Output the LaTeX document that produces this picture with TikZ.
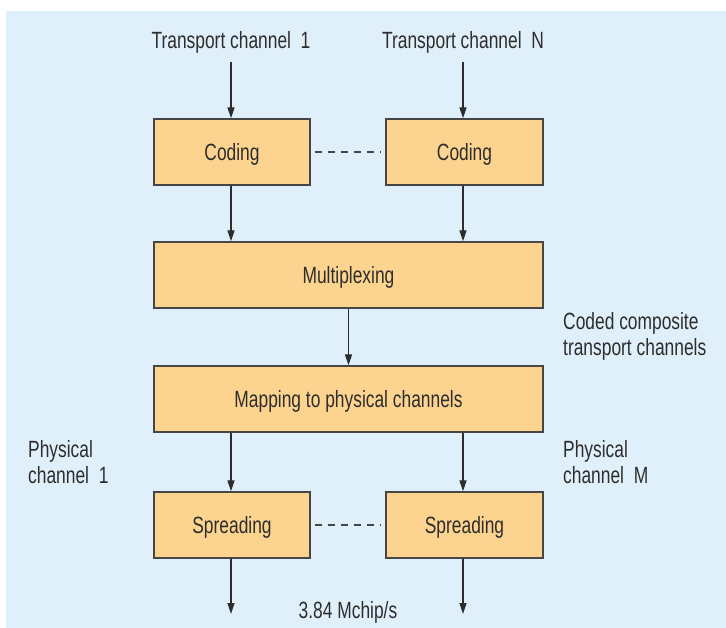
\documentclass[tikz,border=0pt]{standalone}
\usepackage{fontspec}
\setmainfont{Liberation Sans}[FakeStretch=0.74]
\usetikzlibrary{arrows.meta}
\definecolor{bgblue}{RGB}{223,240,251}
\definecolor{boxfill}{RGB}{253,212,143}
\definecolor{ink}{RGB}{45,45,45}
\definecolor{edge}{RGB}{70,70,70}
\tikzset{
  blk/.style={draw=edge, line width=1.4pt, fill=boxfill, rectangle, minimum height=66pt, inner sep=0pt, text height=17pt, text depth=0pt, text=ink, font=\fontsize{23.5}{26}\selectfont},
  lbl/.style={text=ink, inner sep=0pt, font=\fontsize{23.5}{26}\selectfont, align=left},
  arr/.style={draw=ink, line width=1.2pt, -{Triangle[length=11pt,width=7pt]}},
  dsh/.style={draw=edge, line width=1.4pt, dash pattern=on 7pt off 6pt}
}
\begin{document}
\begin{tikzpicture}[x=1pt,y=-1pt]
\useasboundingbox (0,0) rectangle (726,628);
\fill[bgblue] (6,11) rectangle (726,628);
% top labels
\node[lbl, anchor=base] (t1) at (231,49) {Transport channel\ \ 1};
\node[lbl, anchor=base] (tN) at (463,49) {Transport channel\ \ N};
% boxes
\node[blk, minimum width=156pt] (c1) at (232,152) {Coding};
\node[blk, minimum width=157pt] (cN) at (464.5,152) {Coding};
\node[blk, minimum width=389pt] (mux) at (348.5,275) {Multiplexing};
\node[blk, minimum width=389pt] (map) at (348.5,399) {Mapping to physical channels};
\node[blk, minimum width=156pt] (s1) at (232,525) {Spreading};
\node[blk, minimum width=157pt] (sM) at (464.5,525) {Spreading};
% side labels
\node[lbl, anchor=north west] (ccl) at (563,312) {Coded composite\\transport channels};
\node[lbl, anchor=north west] (pc1) at (28,440) {Physical\\channel\ \ 1};
\node[lbl, anchor=north west] (pcM) at (563,440) {Physical\\channel\ \ M};
\node[lbl, anchor=base] (rate) at (348,618) {3.84 Mchip/s};
% connectors
\coordinate (a1) at (231,62);
\coordinate (aN) at (463,62);
\coordinate (b1) at (231,614);
\coordinate (bM) at (463,614);
\draw[arr] (a1) -- (a1 |- c1.north);
\draw[arr] (aN) -- (aN |- cN.north);
\draw[arr] (a1 |- c1.south) -- (a1 |- mux.north);
\draw[arr] (aN |- cN.south) -- (aN |- mux.north);
\draw[arr] (mux.south) -- (map.north);
\draw[arr] (a1 |- map.south) -- (a1 |- s1.north);
\draw[arr] (aN |- map.south) -- (aN |- sM.north);
\draw[arr] (a1 |- s1.south) -- (b1);
\draw[arr] (aN |- sM.south) -- (bM);
\draw[dsh] ([xshift=4pt]c1.east) -- ([xshift=-4pt]cN.west);
\draw[dsh] ([xshift=4pt]s1.east) -- ([xshift=-4pt]sM.west);
\end{tikzpicture}
\end{document}
